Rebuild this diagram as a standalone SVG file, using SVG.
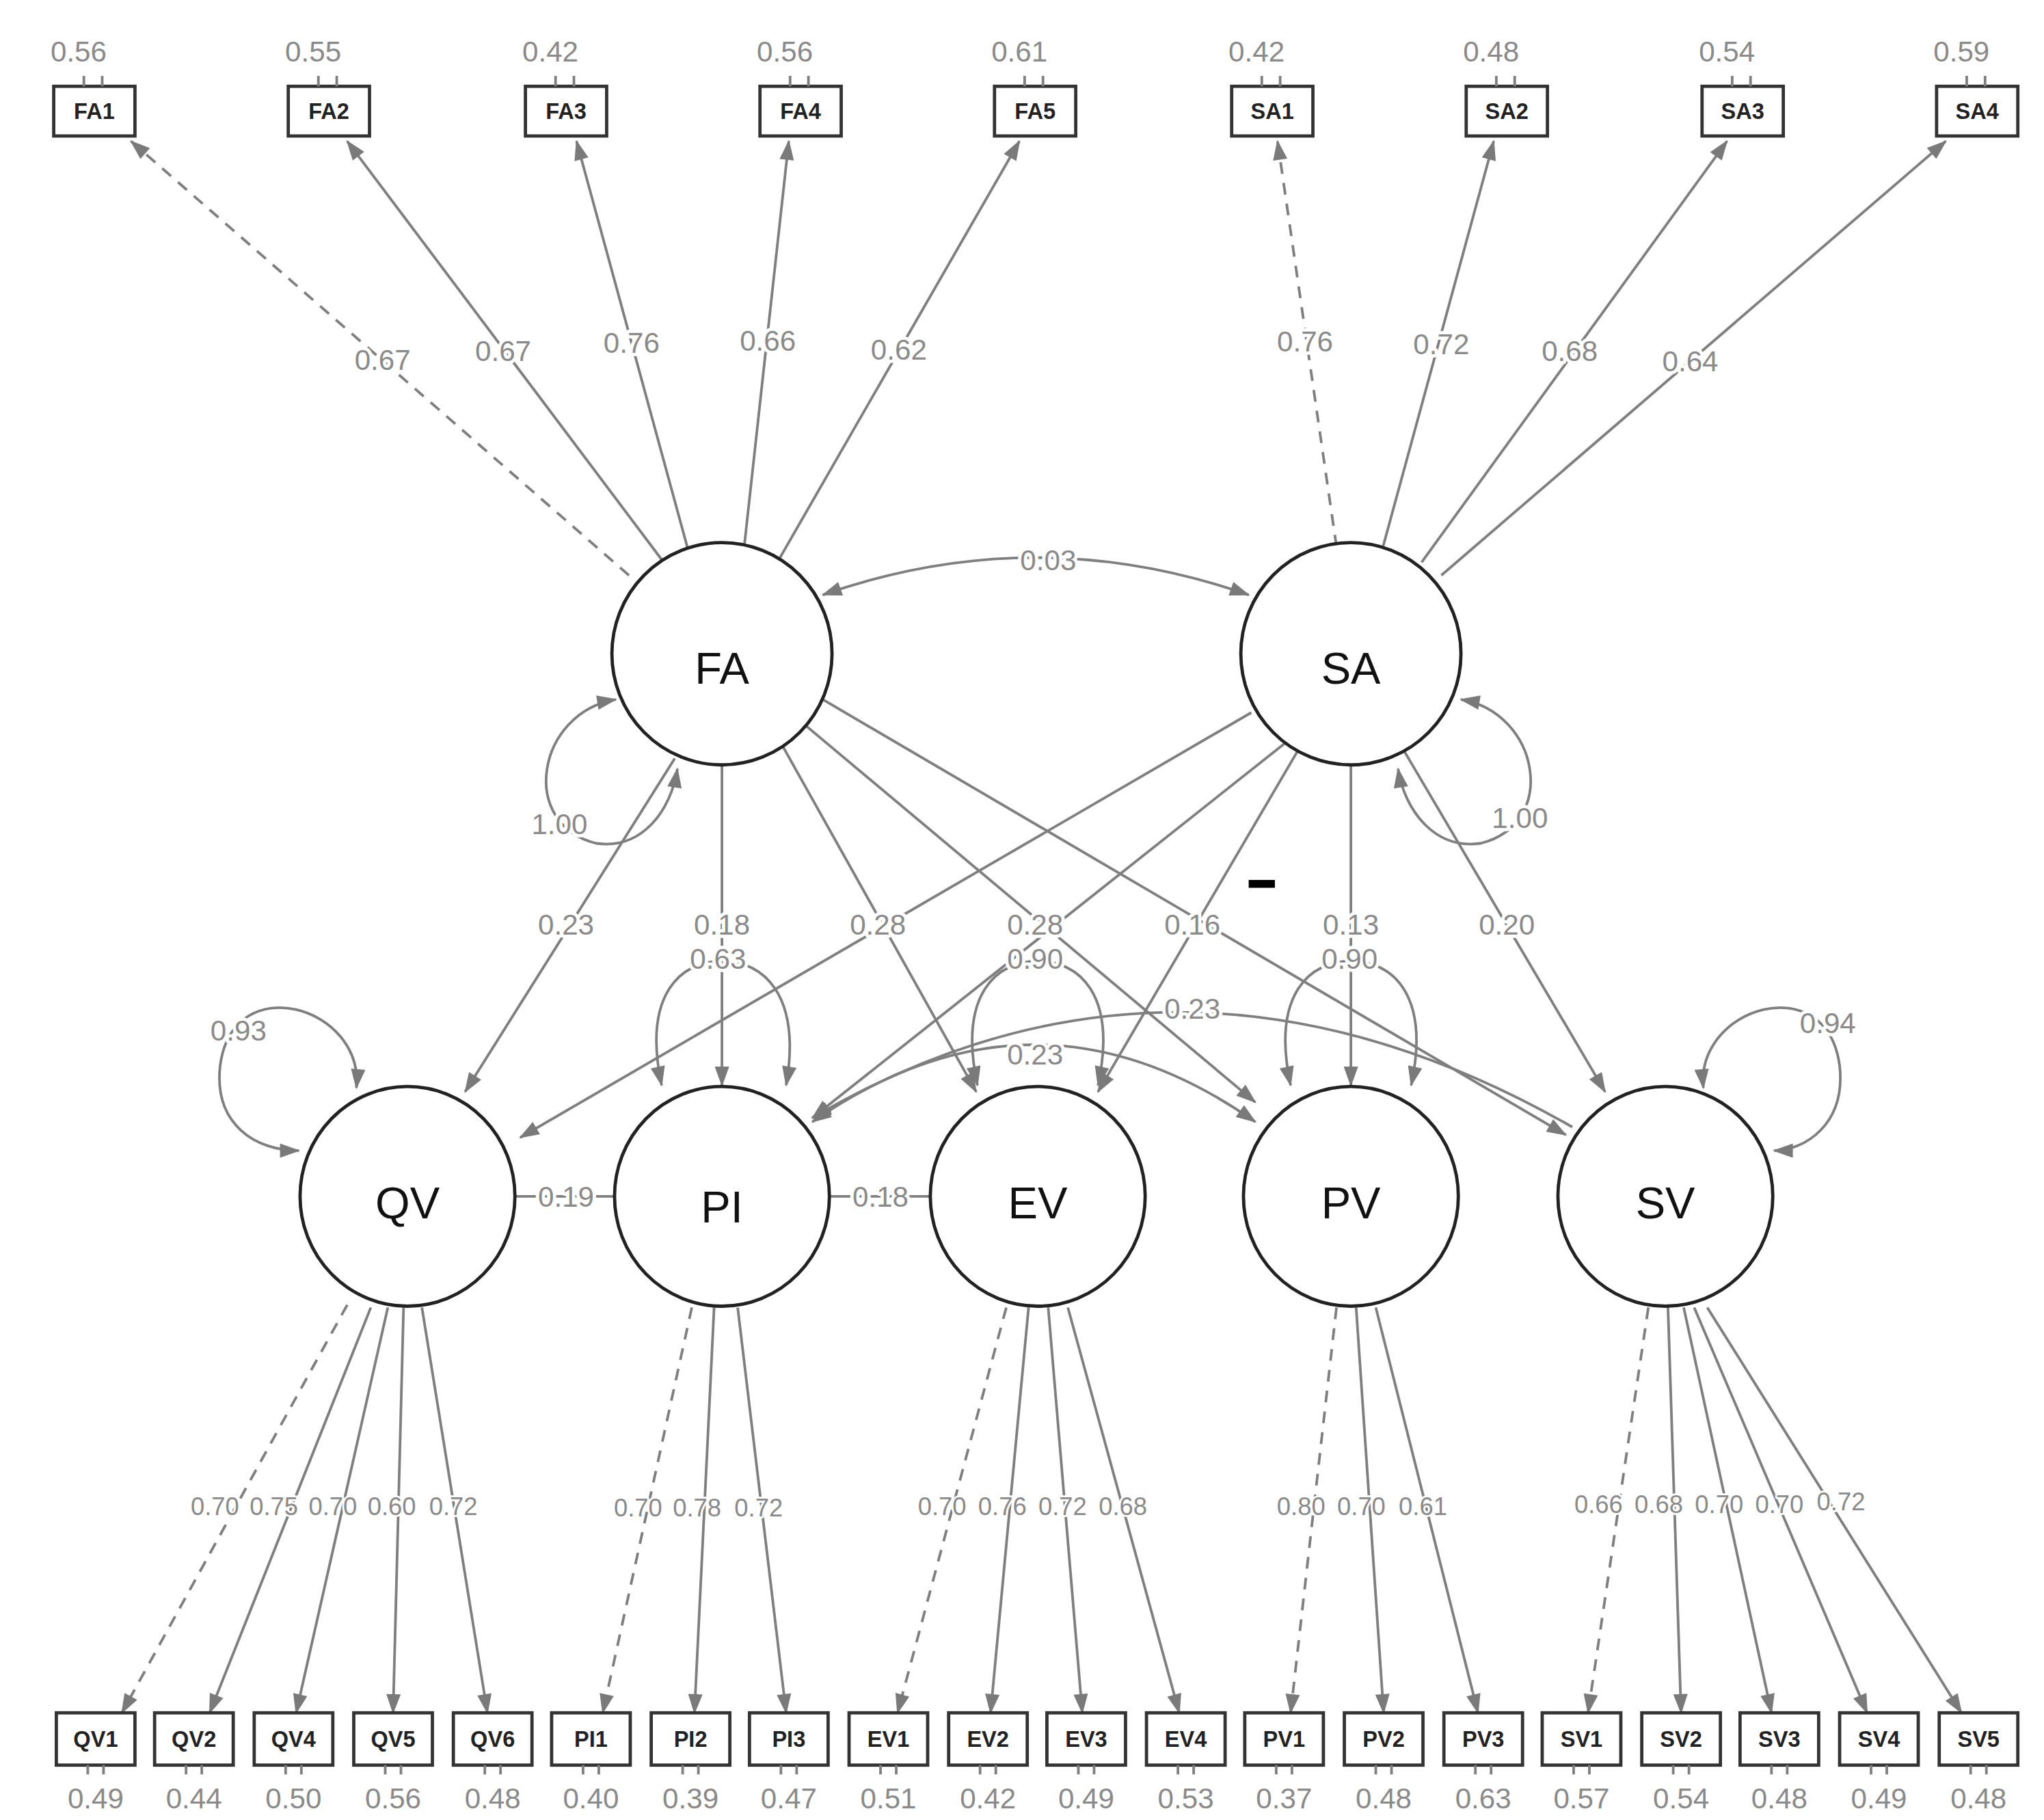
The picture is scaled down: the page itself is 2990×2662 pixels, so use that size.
<svg xmlns="http://www.w3.org/2000/svg" width="2990" height="2662" viewBox="0 0 2990 2662">
<defs>
<marker id="ah" markerUnits="userSpaceOnUse" viewBox="0 0 14 10" refX="13" refY="5" markerWidth="16" markerHeight="11" orient="auto-start-reverse"><path d="M0,0 L14,5 L0,10 z" fill="#7a7a7a"/></marker>
<style>
.l{stroke:#7f7f7f;stroke-width:2;fill:none;marker-end:url(#ah)}
.d{stroke-dasharray:9 7}
.b{marker-start:url(#ah)}
.n{stroke:#7f7f7f;stroke-width:2;fill:none}
.t{font-family:"Liberation Sans",Arial,sans-serif;font-size:22px;fill:#8a8a8a;text-anchor:middle;stroke:#fff;stroke-width:5px;paint-order:stroke;stroke-linejoin:round}
.s{font-size:19px;stroke-width:3px}
.box{fill:#fff;stroke:#333;stroke-width:2.5}
.bt{font-family:"Liberation Sans",Arial,sans-serif;font-size:17px;font-weight:bold;fill:#222;text-anchor:middle}
.lat{fill:#fff;stroke:#222;stroke-width:2.5}
.lt{font-family:"Liberation Sans",Arial,sans-serif;font-size:34px;fill:#111;text-anchor:middle}
</style>
</defs>
<rect width="2990" height="2662" fill="#fff"/>
<g transform="scale(1.9167,1.9124)">
<g id="connectors">
<path class="l d" d="M480,440 L100,108"/>
<path class="l" d="M505,428 L265,108"/>
<path class="l" d="M525,420 L440,108"/>
<path class="l" d="M568,418 L602,108"/>
<path class="l" d="M595,427 L778,108"/>
<path class="l d" d="M1020,418 L975,108"/>
<path class="l" d="M1055,420 L1140,108"/>
<path class="l" d="M1085,430 L1318,108"/>
<path class="l" d="M1100,440 L1485,108"/>
<path class="l b" d="M628,455 Q790,398 953,455"/>
<path class="l b" d="M470,535 C410,545 395,630 455,645 C490,650 512,620 517,588"/>
<path class="l b" d="M1115,535 C1175,545 1190,630 1130,645 C1095,650 1072,620 1067,588"/>
<path class="l" d="M515,580 L355,835"/>
<path class="l" d="M551,584 L551,830"/>
<path class="l" d="M597,570 L745,835"/>
<path class="l" d="M615,555 L958,843"/>
<path class="l" d="M628,535 L1195,868"/>
<path class="l" d="M955,545 L397,870"/>
<path class="l" d="M985,565 L620,855"/>
<path class="l" d="M990,575 L838,835"/>
<path class="l" d="M1031,584 L1031,830"/>
<path class="l" d="M1072,575 L1225,835"/>
<path class="l b" d="M272,832 C278,770 178,740 168,815 C163,860 195,880 228,880"/>
<path class="l b" d="M1300,832 C1294,770 1394,740 1404,815 C1409,860 1377,880 1354,880"/>
<path class="l b" d="M505,830 C490,760 520,735 551,735 C582,735 612,760 600,830"/>
<path class="l b" d="M746,830 C731,760 761,735 792,735 C823,735 853,760 838,830"/>
<path class="l b" d="M985,830 C970,760 1000,735 1031,735 C1062,735 1092,760 1077,830"/>
<path class="l b" d="M620,858 Q790,740 958,858"/>
<path class="l" d="M1200,862 Q900,690 620,855"/>
<path class="n" d="M393,915 L470,915"/>
<path class="n" d="M634,915 L710,915"/>
<path class="l d" d="M265,998 L93,1310"/>
<path class="l" d="M283,1000 L160,1310"/>
<path class="l" d="M296,1000 L226,1310"/>
<path class="l" d="M308,1000 L300,1310"/>
<path class="l" d="M322,1000 L372,1310"/>
<path class="l d" d="M528,1000 L460,1310"/>
<path class="l" d="M545,1000 L530,1310"/>
<path class="l" d="M563,1000 L600,1310"/>
<path class="l d" d="M768,1000 L685,1310"/>
<path class="l" d="M785,1000 L756,1310"/>
<path class="l" d="M800,1000 L826,1310"/>
<path class="l" d="M815,1000 L900,1310"/>
<path class="l d" d="M1020,1000 L985,1310"/>
<path class="l" d="M1035,1000 L1056,1310"/>
<path class="l" d="M1050,1000 L1128,1310"/>
<path class="l d" d="M1258,1000 L1212,1310"/>
<path class="l" d="M1273,1000 L1283,1310"/>
<path class="l" d="M1285,1000 L1352,1310"/>
<path class="l" d="M1293,1000 L1425,1310"/>
<path class="l" d="M1303,1000 L1497,1310"/>
<text class="t" x="292" y="283">0.67</text><text class="t" x="384" y="276">0.67</text><text class="t" x="482" y="270">0.76</text><text class="t" x="586" y="268">0.66</text><text class="t" x="686" y="275">0.62</text>
<text class="t" x="996" y="269">0.76</text><text class="t" x="1100" y="271">0.72</text><text class="t" x="1198" y="276">0.68</text><text class="t" x="1290" y="284">0.64</text>
<text class="t" x="800" y="436">0.03</text>
<text class="t" x="427" y="638">1.00</text><text class="t" x="1160" y="633">1.00</text>
<text class="t" x="432" y="715">0.23</text><text class="t" x="551" y="715">0.18</text><text class="t" x="670" y="715">0.28</text><text class="t" x="790" y="715">0.28</text><text class="t" x="910" y="715">0.16</text><text class="t" x="1031" y="715">0.13</text><text class="t" x="1150" y="715">0.20</text>
<text class="t" x="548" y="741">0.63</text><text class="t" x="790" y="741">0.90</text><text class="t" x="1030" y="741">0.90</text>
<text class="t" x="182" y="796">0.93</text><text class="t" x="1395" y="790">0.94</text>
<text class="t" x="910" y="779">0.23</text><text class="t" x="790" y="814">0.23</text>
<text class="t" x="432" y="923">0.19</text><text class="t" x="672" y="923">0.18</text>
<rect x="953" y="673" width="20" height="6" fill="#000"/>
<text class="t s" x="164" y="1159">0.70</text><text class="t s" x="209" y="1159">0.75</text><text class="t s" x="254" y="1159">0.70</text><text class="t s" x="299" y="1159">0.60</text><text class="t s" x="346" y="1159">0.72</text>
<text class="t s" x="487" y="1160">0.70</text><text class="t s" x="532" y="1160">0.78</text><text class="t s" x="579" y="1160">0.72</text>
<text class="t s" x="719" y="1159">0.70</text><text class="t s" x="765" y="1159">0.76</text><text class="t s" x="811" y="1159">0.72</text><text class="t s" x="857" y="1159">0.68</text>
<text class="t s" x="993" y="1159">0.80</text><text class="t s" x="1039" y="1159">0.70</text><text class="t s" x="1086" y="1159">0.61</text>
<text class="t s" x="1220" y="1157">0.66</text><text class="t s" x="1266" y="1157">0.68</text><text class="t s" x="1312" y="1157">0.70</text><text class="t s" x="1358" y="1157">0.70</text><text class="t s" x="1405" y="1155">0.72</text>
</g>
<g id="FA"><ellipse class="lat" cx="551" cy="500" rx="84" ry="85"/><text class="lt" x="551" y="523">FA</text></g>
<g id="SA"><ellipse class="lat" cx="1031" cy="500" rx="84" ry="85"/><text class="lt" x="1031" y="523">SA</text></g>
<g id="QV"><ellipse class="lat" cx="311" cy="915" rx="82" ry="84"/><text class="lt" x="311" y="932">QV</text></g>
<g id="PI"><ellipse class="lat" cx="551" cy="915" rx="82" ry="84"/><text class="lt" x="551" y="935">PI</text></g>
<g id="EV"><ellipse class="lat" cx="792" cy="915" rx="82" ry="84"/><text class="lt" x="792" y="932">EV</text></g>
<g id="PV"><ellipse class="lat" cx="1031" cy="915" rx="82" ry="84"/><text class="lt" x="1031" y="932">PV</text></g>
<g id="SV"><ellipse class="lat" cx="1271" cy="915" rx="82" ry="84"/><text class="lt" x="1271" y="932">SV</text></g>
<g id="FA1"><rect class="box" x="41" y="66" width="62" height="38"/><path class="n" d="M64,66 L64,58 M78,66 L78,58"/><text class="bt" x="72" y="91">FA1</text><text class="t" x="60" y="47">0.56</text></g>
<g id="FA2"><rect class="box" x="220" y="66" width="62" height="38"/><path class="n" d="M243,66 L243,58 M257,66 L257,58"/><text class="bt" x="251" y="91">FA2</text><text class="t" x="239" y="47">0.55</text></g>
<g id="FA3"><rect class="box" x="401" y="66" width="62" height="38"/><path class="n" d="M424,66 L424,58 M438,66 L438,58"/><text class="bt" x="432" y="91">FA3</text><text class="t" x="420" y="47">0.42</text></g>
<g id="FA4"><rect class="box" x="580" y="66" width="62" height="38"/><path class="n" d="M603,66 L603,58 M617,66 L617,58"/><text class="bt" x="611" y="91">FA4</text><text class="t" x="599" y="47">0.56</text></g>
<g id="FA5"><rect class="box" x="759" y="66" width="62" height="38"/><path class="n" d="M782,66 L782,58 M796,66 L796,58"/><text class="bt" x="790" y="91">FA5</text><text class="t" x="778" y="47">0.61</text></g>
<g id="SA1"><rect class="box" x="940" y="66" width="62" height="38"/><path class="n" d="M963,66 L963,58 M977,66 L977,58"/><text class="bt" x="971" y="91">SA1</text><text class="t" x="959" y="47">0.42</text></g>
<g id="SA2"><rect class="box" x="1119" y="66" width="62" height="38"/><path class="n" d="M1142,66 L1142,58 M1156,66 L1156,58"/><text class="bt" x="1150" y="91">SA2</text><text class="t" x="1138" y="47">0.48</text></g>
<g id="SA3"><rect class="box" x="1299" y="66" width="62" height="38"/><path class="n" d="M1322,66 L1322,58 M1336,66 L1336,58"/><text class="bt" x="1330" y="91">SA3</text><text class="t" x="1318" y="47">0.54</text></g>
<g id="SA4"><rect class="box" x="1478" y="66" width="62" height="38"/><path class="n" d="M1501,66 L1501,58 M1515,66 L1515,58"/><text class="bt" x="1509" y="91">SA4</text><text class="t" x="1497" y="47">0.59</text></g>
<g id="QV1"><rect class="box" x="43" y="1310" width="60" height="40"/><path class="n" d="M67,1350 L67,1357 M79,1350 L79,1357"/><text class="bt" x="73" y="1336">QV1</text><text class="t" x="73" y="1383">0.49</text></g>
<g id="QV2"><rect class="box" x="118" y="1310" width="60" height="40"/><path class="n" d="M142,1350 L142,1357 M154,1350 L154,1357"/><text class="bt" x="148" y="1336">QV2</text><text class="t" x="148" y="1383">0.44</text></g>
<g id="QV4"><rect class="box" x="194" y="1310" width="60" height="40"/><path class="n" d="M218,1350 L218,1357 M230,1350 L230,1357"/><text class="bt" x="224" y="1336">QV4</text><text class="t" x="224" y="1383">0.50</text></g>
<g id="QV5"><rect class="box" x="270" y="1310" width="60" height="40"/><path class="n" d="M294,1350 L294,1357 M306,1350 L306,1357"/><text class="bt" x="300" y="1336">QV5</text><text class="t" x="300" y="1383">0.56</text></g>
<g id="QV6"><rect class="box" x="346" y="1310" width="60" height="40"/><path class="n" d="M370,1350 L370,1357 M382,1350 L382,1357"/><text class="bt" x="376" y="1336">QV6</text><text class="t" x="376" y="1383">0.48</text></g>
<g id="PI1"><rect class="box" x="421" y="1310" width="60" height="40"/><path class="n" d="M445,1350 L445,1357 M457,1350 L457,1357"/><text class="bt" x="451" y="1336">PI1</text><text class="t" x="451" y="1383">0.40</text></g>
<g id="PI2"><rect class="box" x="497" y="1310" width="60" height="40"/><path class="n" d="M521,1350 L521,1357 M533,1350 L533,1357"/><text class="bt" x="527" y="1336">PI2</text><text class="t" x="527" y="1383">0.39</text></g>
<g id="PI3"><rect class="box" x="572" y="1310" width="60" height="40"/><path class="n" d="M596,1350 L596,1357 M608,1350 L608,1357"/><text class="bt" x="602" y="1336">PI3</text><text class="t" x="602" y="1383">0.47</text></g>
<g id="EV1"><rect class="box" x="648" y="1310" width="60" height="40"/><path class="n" d="M672,1350 L672,1357 M684,1350 L684,1357"/><text class="bt" x="678" y="1336">EV1</text><text class="t" x="678" y="1383">0.51</text></g>
<g id="EV2"><rect class="box" x="724" y="1310" width="60" height="40"/><path class="n" d="M748,1350 L748,1357 M760,1350 L760,1357"/><text class="bt" x="754" y="1336">EV2</text><text class="t" x="754" y="1383">0.42</text></g>
<g id="EV3"><rect class="box" x="799" y="1310" width="60" height="40"/><path class="n" d="M823,1350 L823,1357 M835,1350 L835,1357"/><text class="bt" x="829" y="1336">EV3</text><text class="t" x="829" y="1383">0.49</text></g>
<g id="EV4"><rect class="box" x="875" y="1310" width="60" height="40"/><path class="n" d="M899,1350 L899,1357 M911,1350 L911,1357"/><text class="bt" x="905" y="1336">EV4</text><text class="t" x="905" y="1383">0.53</text></g>
<g id="PV1"><rect class="box" x="950" y="1310" width="60" height="40"/><path class="n" d="M974,1350 L974,1357 M986,1350 L986,1357"/><text class="bt" x="980" y="1336">PV1</text><text class="t" x="980" y="1383">0.37</text></g>
<g id="PV2"><rect class="box" x="1026" y="1310" width="60" height="40"/><path class="n" d="M1050,1350 L1050,1357 M1062,1350 L1062,1357"/><text class="bt" x="1056" y="1336">PV2</text><text class="t" x="1056" y="1383">0.48</text></g>
<g id="PV3"><rect class="box" x="1102" y="1310" width="60" height="40"/><path class="n" d="M1126,1350 L1126,1357 M1138,1350 L1138,1357"/><text class="bt" x="1132" y="1336">PV3</text><text class="t" x="1132" y="1383">0.63</text></g>
<g id="SV1"><rect class="box" x="1177" y="1310" width="60" height="40"/><path class="n" d="M1201,1350 L1201,1357 M1213,1350 L1213,1357"/><text class="bt" x="1207" y="1336">SV1</text><text class="t" x="1207" y="1383">0.57</text></g>
<g id="SV2"><rect class="box" x="1253" y="1310" width="60" height="40"/><path class="n" d="M1277,1350 L1277,1357 M1289,1350 L1289,1357"/><text class="bt" x="1283" y="1336">SV2</text><text class="t" x="1283" y="1383">0.54</text></g>
<g id="SV3"><rect class="box" x="1328" y="1310" width="60" height="40"/><path class="n" d="M1352,1350 L1352,1357 M1364,1350 L1364,1357"/><text class="bt" x="1358" y="1336">SV3</text><text class="t" x="1358" y="1383">0.48</text></g>
<g id="SV4"><rect class="box" x="1404" y="1310" width="60" height="40"/><path class="n" d="M1428,1350 L1428,1357 M1440,1350 L1440,1357"/><text class="bt" x="1434" y="1336">SV4</text><text class="t" x="1434" y="1383">0.49</text></g>
<g id="SV5"><rect class="box" x="1480" y="1310" width="60" height="40"/><path class="n" d="M1504,1350 L1504,1357 M1516,1350 L1516,1357"/><text class="bt" x="1510" y="1336">SV5</text><text class="t" x="1510" y="1383">0.48</text></g>
</g>
</svg>
